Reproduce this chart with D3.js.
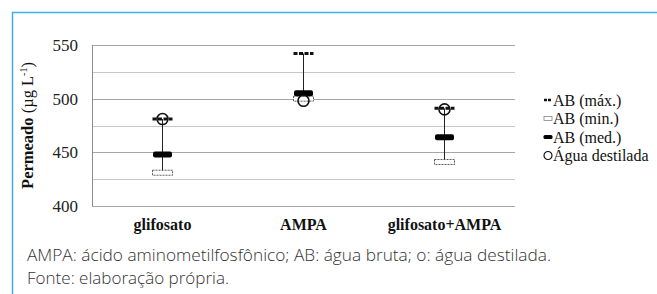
<!DOCTYPE html>
<html>
<head>
<meta charset="utf-8">
<script src="https://cdn.jsdelivr.net/npm/d3@7"></script>
<style>
  html, body { margin: 0; padding: 0; background: #fff; }
  svg { display: block; }
  svg text.serif { font-family: 'Liberation Serif', 'Tinos', 'DejaVu Serif', serif; }
  svg text.caption { font-family: 'Open Sans', sans-serif; font-weight: 300; }
</style>
</head>
<body>
<div id="chart"></div>
<script>
// data
var categories = ['glifosato', 'AMPA', 'glifosato+AMPA'];
var abMax = [481, 542, 491];
var abMin = [431, 500, 441];
var abMed = [448, 505, 464];
var aguaDestilada = [481, 498, 490];
var yTicks = [400, 450, 500, 550];
var yGrid = [400, 425, 450, 475, 500, 525, 550];
var legendLabels = ['AB (máx.)', 'AB (min.)', 'AB (med.)', 'Água destilada'];
var caption = ['AMPA: ácido aminometilfosfônico; AB: água bruta; o: água destilada.',
  'Fonte: elaboração própria.'];
var captionWidths = [524, 202];

var W = 657, H = 294;
var margin = { left: 92, right: 142, top: 45, bottom: 88 };

var svg = d3.select('#chart').append('svg')
  .attr('width', W)
  .attr('height', H);

// blue frame (top + left edge)
svg.append('path')
  .attr('d', 'M12.5,294 V12.5 H657')
  .attr('fill', 'none')
  .attr('stroke', '#3db0e2')
  .attr('stroke-width', 1.5);

var x = d3.scaleBand()
  .domain(categories)
  .range([margin.left, W - margin.right]);

var y = d3.scaleLinear()
  .domain([400, 550])
  .range([H - margin.bottom, margin.top]);

// gridlines
svg.append('g')
  .selectAll('line')
  .data(yGrid)
  .enter().append('line')
  .attr('x1', margin.left)
  .attr('x2', W - margin.right)
  .attr('y1', function (d) { return Math.round(y(d)) + 0.5; })
  .attr('y2', function (d) { return Math.round(y(d)) + 0.5; })
  .attr('stroke', function (d) { return d % 50 === 0 ? '#a6a6a6' : '#c8c8c8'; })
  .attr('stroke-width', 1);

// y axis line
svg.append('line')
  .attr('x1', margin.left + 0.5).attr('x2', margin.left + 0.5)
  .attr('y1', y(550)).attr('y2', y(400))
  .attr('stroke', '#8c8c8c');

// y tick labels
var yAxis = svg.append('g')
  .attr('transform', 'translate(' + (margin.left - 14) + ',0)')
  .call(d3.axisLeft(y).tickValues(yTicks).tickSize(0).tickPadding(0));
yAxis.select('.domain').remove();
yAxis.attr('font-family', null).attr('font-size', null);
yAxis.selectAll('text')
  .attr('class', 'serif')
  .style('font-size', '17px')
  .attr('fill', '#222');

// x labels
var xAxis = svg.append('g')
  .attr('transform', 'translate(0,' + (H - margin.bottom) + ')')
  .call(d3.axisBottom(x).tickSize(0).tickPadding(13));
xAxis.select('.domain').remove();
xAxis.attr('font-family', null).attr('font-size', null);
xAxis.selectAll('text')
  .attr('class', 'serif')
  .style('font-size', '16px')
  .style('font-weight', 'bold')
  .attr('fill', '#111');

// y title
var ytitle = svg.append('text')
  .attr('class', 'serif')
  .attr('transform', 'translate(33,' + ((y(400) + y(550)) / 2) + ') rotate(-90)')
  .attr('text-anchor', 'middle')
  .style('font-size', '16.5px')
  .attr('fill', '#111');
ytitle.append('tspan').style('font-weight', 'bold').text('Permeado');
ytitle.append('tspan').text(' (µg L');
ytitle.append('tspan').attr('dy', -6).style('font-size', '10px').text('-1');
ytitle.append('tspan').attr('dy', 6).text(')');

// marker drawers
function drawMax(g, cx, cy) {
  g.append('line')
    .attr('x1', cx - 10).attr('x2', cx + 10)
    .attr('y1', cy).attr('y2', cy)
    .attr('stroke', '#111').attr('stroke-width', 3)
    .attr('stroke-dasharray', '4,1.5');
}
function drawMin(g, cx, cy) {
  g.append('rect')
    .attr('x', cx - 10).attr('y', cy - 2.5)
    .attr('width', 20).attr('height', 5)
    .attr('fill', '#fff')
    .attr('stroke', '#333').attr('stroke-width', 0.8)
    .attr('stroke-dasharray', '2,1');
}
function drawMed(g, cx, cy) {
  g.append('rect')
    .attr('x', cx - 9.5).attr('y', cy - 3)
    .attr('width', 19).attr('height', 6)
    .attr('rx', 2)
    .attr('fill', '#000');
}
function drawCircle(g, cx, cy, r) {
  g.append('circle')
    .attr('cx', cx).attr('cy', cy).attr('r', r)
    .attr('fill', 'none')
    .attr('stroke', '#111').attr('stroke-width', 1.6);
}

var marks = svg.append('g');
categories.forEach(function (c, i) {
  var cx = x(c) + x.bandwidth() / 2;
  marks.append('line')
    .attr('x1', cx).attr('x2', cx)
    .attr('y1', y(abMax[i])).attr('y2', y(abMin[i]))
    .attr('stroke', '#222').attr('stroke-width', 1);
  drawMin(marks, cx, y(abMin[i]));
  drawMed(marks, cx, y(abMed[i]));
  drawMax(marks, cx, y(abMax[i]));
  drawCircle(marks, cx, y(aguaDestilada[i]), 5.5);
});

// legend
var legend = svg.append('g').attr('transform', 'translate(548,100)');
legendLabels.forEach(function (lab, i) {
  var g = legend.append('g').attr('transform', 'translate(0,' + (i * 18.5) + ')');
  if (i === 0) {
    g.append('line').attr('x1', -4).attr('x2', 4).attr('y1', 0).attr('y2', 0)
      .attr('stroke', '#111').attr('stroke-width', 2.5).attr('stroke-dasharray', '3,1');
  } else if (i === 1) {
    g.append('rect').attr('x', -4).attr('y', -2).attr('width', 8).attr('height', 4)
      .attr('fill', '#fff').attr('stroke', '#777').attr('stroke-width', 0.7);
  } else if (i === 2) {
    g.append('rect').attr('x', -4.5).attr('y', -2).attr('width', 9).attr('height', 4)
      .attr('rx', 1.5).attr('fill', '#000');
  } else {
    g.append('circle').attr('cx', 0).attr('cy', 0).attr('r', 4)
      .attr('fill', 'none').attr('stroke', '#111').attr('stroke-width', 1.2);
  }
  g.append('text')
    .attr('class', 'serif')
    .attr('x', 5).attr('y', 5.5)
    .style('font-size', '16px')
    .attr('fill', '#111')
    .text(lab);
});

// caption
svg.append('g').selectAll('text')
  .data(caption)
  .enter().append('text')
  .attr('class', 'caption')
  .attr('x', 27)
  .attr('y', function (d, i) { return 261 + i * 23; })
  .style('font-size', '16px')
  .attr('fill', '#333')
  .attr('textLength', function (d, i) { return captionWidths[i]; })
  .attr('lengthAdjust', 'spacingAndGlyphs')
  .text(function (d) { return d; });
</script>
</body>
</html>
